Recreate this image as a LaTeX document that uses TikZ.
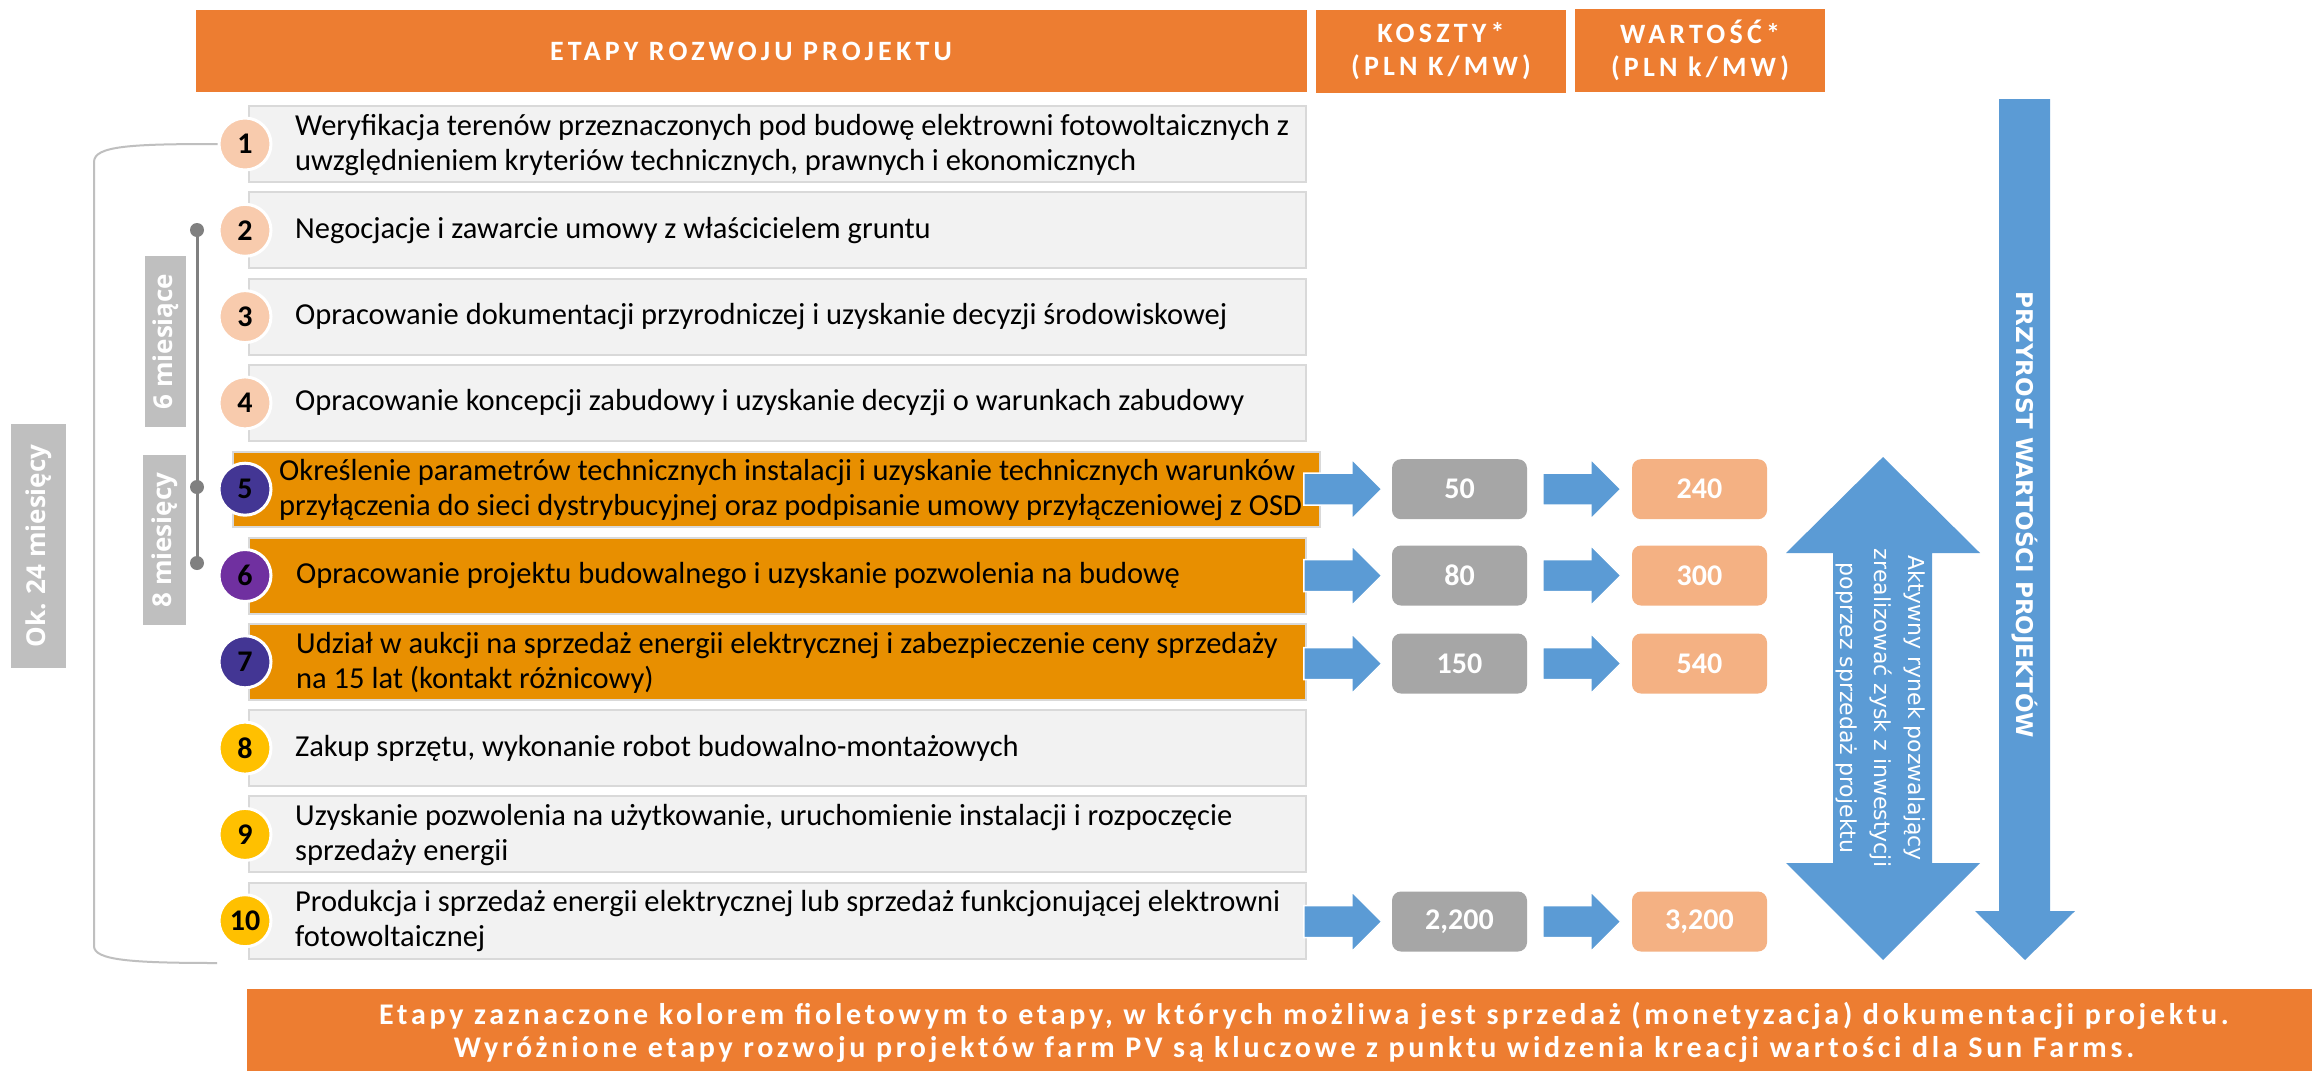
\documentclass[tikz,border=0pt]{standalone}
\usepackage{fontspec}
\setmainfont{Carlito}
\newfontfamily\osans{Open Sans}
\newfontfamily\dejavu{DejaVu Sans}
\newfontfamily\spaced{Carlito}[LetterSpace=15]
\newfontfamily\spacedb{Carlito}[LetterSpace=12.5]
\usetikzlibrary{calc}
\definecolor{hdr}{HTML}{ED7D31}
\definecolor{rowor}{HTML}{E88F00}
\definecolor{rowgray}{HTML}{F2F2F2}
\definecolor{rowline}{HTML}{D9D9D9}
\definecolor{blu}{HTML}{5B9BD5}
\definecolor{costg}{HTML}{A6A6A6}
\definecolor{valp}{HTML}{F4B183}
\definecolor{peach}{HTML}{F8CBAD}
\definecolor{indig}{HTML}{433694}
\definecolor{purp}{HTML}{7030A0}
\definecolor{gold}{HTML}{FFC000}
\definecolor{lbl}{HTML}{BFBFBF}
\definecolor{tl}{HTML}{808080}
\tikzset{harrow/.pic={\filldraw[fill=blu, draw=white, line width=1.5pt] (0,-16) -- (48,-16) -- (48,-30) -- (78,0) -- (48,30) -- (48,16) -- (0,16) -- cycle;}}
\begin{document}
\begin{tikzpicture}[x=1pt,y=-1pt,
  rowbox/.style={draw=rowline, line width=2pt, fill=rowgray, minimum width=1057pt, minimum height=76pt, inner sep=0pt},
  orbox/.style={rowbox, fill=rowor},
  rowtxt/.style={anchor=west, align=left, inner sep=0pt, font=\fontsize{30.5}{35}\selectfont, text=black},
  num/.style={circle, draw=white, line width=3pt, minimum size=52pt, inner sep=0pt, font=\fontsize{30}{30}\selectfont\bfseries},
  costbox/.style={fill=costg, rounded corners=9pt, minimum width=135pt, minimum height=60pt, inner sep=0pt, text=white, font=\fontsize{30}{30}\selectfont\bfseries},
  valbox/.style={costbox, fill=valp},
  hdrbox/.style={fill=hdr, inner sep=0pt, text=white, align=center},
  sidelbl/.style={fill=lbl, inner sep=0pt, rotate=90, text=white, font=\osans\bfseries\fontsize{26}{26}\selectfont},
  tldot/.style={circle, fill=tl, minimum size=14pt, inner sep=0pt},
]
\useasboundingbox (0,0) rectangle (2312,1071);
\fill[white] (0,0) rectangle (2312,1071);

% headers
\node[hdrbox, minimum width=1111pt, minimum height=82pt] (h1) at (751,51) {\spaced\bfseries\fontsize{28}{28}\selectfont ETAPY ROZWOJU PROJEKTU};
\node[hdrbox, minimum width=250pt, minimum height=83pt, font=\spaced\bfseries\fontsize{28}{33}\selectfont] (h2) at (1441,51.5) {KOSZTY*\\(PLN K/MW)};
\node[hdrbox, minimum width=250pt, minimum height=83pt, font=\spaced\bfseries\fontsize{28}{33}\selectfont] (h3) at (1700,50.5) {WARTOŚĆ*\\(PLN k/MW)};

% row boxes
\node[rowbox] (b1) at (777.5,144) {};
\node[rowbox] (b2) at (777.5,230.3) {};
\node[rowbox] (b3) at (777.5,316.6) {};
\node[rowbox] (b4) at (777.5,402.9) {};
\node[orbox, minimum width=1087pt, minimum height=75pt] (b5) at (776.5,489.5) {};
\node[orbox] (b6) at (777.5,575.5) {};
\node[orbox] (b7) at (777.5,661.8) {};
\node[rowbox] (b8) at (777.5,748.1) {};
\node[rowbox] (b9) at (777.5,834.4) {};
\node[rowbox] (b10) at (777.5,920.7) {};

% row texts
\node[rowtxt] (t1) at (295,145) {Weryfikacja terenów przeznaczonych pod budowę elektrowni fotowoltaicznych z\\uwzględnieniem kryteriów technicznych, prawnych i ekonomicznych};
\node[rowtxt] (t2) at (295,230.3) {Negocjacje i zawarcie umowy z właścicielem gruntu};
\node[rowtxt] (t3) at (295,316.6) {Opracowanie dokumentacji przyrodniczej i uzyskanie decyzji środowiskowej};
\node[rowtxt] (t4) at (295,402.9) {Opracowanie koncepcji zabudowy i uzyskanie decyzji o warunkach zabudowy};
\node[rowtxt] (t5) at (279,490) {Określenie parametrów technicznych instalacji i uzyskanie technicznych warunków\\przyłączenia do sieci dystrybucyjnej oraz podpisanie umowy przyłączeniowej z OSD};
\node[rowtxt] (t6) at (296,575.5) {Opracowanie projektu budowalnego i uzyskanie pozwolenia na budowę};
\node[rowtxt] (t7) at (296,662.5) {Udział w aukcji na sprzedaż energii elektrycznej i zabezpieczenie ceny sprzedaży\\na 15 lat (kontakt różnicowy)};
\node[rowtxt] (t8) at (295,748.1) {Zakup sprzętu, wykonanie robot budowalno-montażowych};
\node[rowtxt] (t9) at (295,835) {Uzyskanie pozwolenia na użytkowanie, uruchomienie instalacji i rozpoczęcie\\sprzedaży energii};
\node[rowtxt] (t10) at (295,921.5) {Produkcja i sprzedaż energii elektrycznej lub sprzedaż funkcjonującej elektrowni\\fotowoltaicznej};

% number circles
\node[num, fill=peach] (c1) at (245,144) {1};
\node[num, fill=peach] (c2) at (245,230.3) {2};
\node[num, fill=peach] (c3) at (245,316.6) {3};
\node[num, fill=peach] (c4) at (245,402.9) {4};
\node[num, fill=indig] (c5) at (245,489.2) {5};
\node[num, fill=purp] (c6) at (245,575.5) {6};
\node[num, fill=indig] (c7) at (245,661.8) {7};
\node[num, fill=gold] (c8) at (245,748.1) {8};
\node[num, fill=gold] (c9) at (245,834.4) {9};
\node[num, fill=gold] (c10) at (245,920.7) {10};

% cost / value boxes
\node[costbox] (k5) at (1459.5,489.2) {50};
\node[valbox] (v5) at (1699.5,489.2) {240};
\node[costbox] (k6) at (1459.5,575.5) {80};
\node[valbox] (v6) at (1699.5,575.5) {300};
\node[costbox] (k7) at (1459.5,663.5) {150};
\node[valbox] (v7) at (1699.5,663.5) {540};
\node[costbox] (k10) at (1459.5,921.5) {2,200};
\node[valbox] (v10) at (1699.5,921.5) {3,200};

% block arrows
\foreach \r in {5,6,7,10}{
  \pic at ($(k\r.west)+(-88,0)$) {harrow};
  \pic at ($(v\r.west)+(-89,0)$) {harrow};
}

% double arrow
\fill[blu] (1883,457) -- (1980,553) -- (1932,553) -- (1932,863) -- (1980,863) -- (1883,960) -- (1786,863) -- (1833,863) -- (1833,553) -- (1786,553) -- cycle;
\node[rotate=-90, text=white, align=center, inner sep=0pt, font=\dejavu\fontsize{22}{34}\selectfont] (mkt) at (1881,708) {Aktywny rynek pozwalający\\zrealizować zysk z inwestycji\\poprzez sprzedaż projektu};

% value growth arrow
\fill[blu] (1999,99) -- (2050,99) -- (2050,911) -- (2075,911) -- (2025,960) -- (1975,911) -- (1999,911) -- cycle;
\node[rotate=-90, text=white, inner sep=0pt, font=\dejavu\bfseries\fontsize{23}{23}\selectfont] (grow) at (2025,515) {PRZYROST WARTOŚCI PROJEKTÓW};

% left bracket
\coordinate (brb) at (217,963);
\draw[lbl, line width=2pt] (c1.west) .. controls (130,144) and (94,146) .. (94,162) -- (94,946) .. controls (94,960) and (130,963) .. (brb);
\node[sidelbl, minimum width=244pt, minimum height=55pt] (lab24) at (38.5,546) {Ok. 24 miesięcy};

% inner timeline
\node[tldot] (d1) at (197,230) {};
\node[tldot] (d2) at (197,487) {};
\node[tldot] (d3) at (197,563) {};
\draw[tl, line width=3pt] (d1.center) -- (d3.center);
\node[sidelbl, minimum width=171pt, minimum height=41pt] (lab6) at (165.5,341.5) {6 miesiące};
\node[sidelbl, minimum width=170pt, minimum height=43pt] (lab8) at (164.5,540) {8 miesięcy};

% bottom banner
\fill[hdr] (247,989) rectangle (2312,1071);
\node[text=white, align=center, inner sep=0pt, font=\spacedb\bfseries\fontsize{30}{33}\selectfont] (note) at (1294,1032) {\hspace*{20pt}Etapy zaznaczone kolorem fioletowym to etapy, w których możliwa jest sprzedaż (monetyzacja) dokumentacji projektu.\\Wyróżnione etapy rozwoju projektów farm PV są kluczowe z punktu widzenia kreacji wartości dla Sun Farms.};
\end{tikzpicture}
\end{document}
